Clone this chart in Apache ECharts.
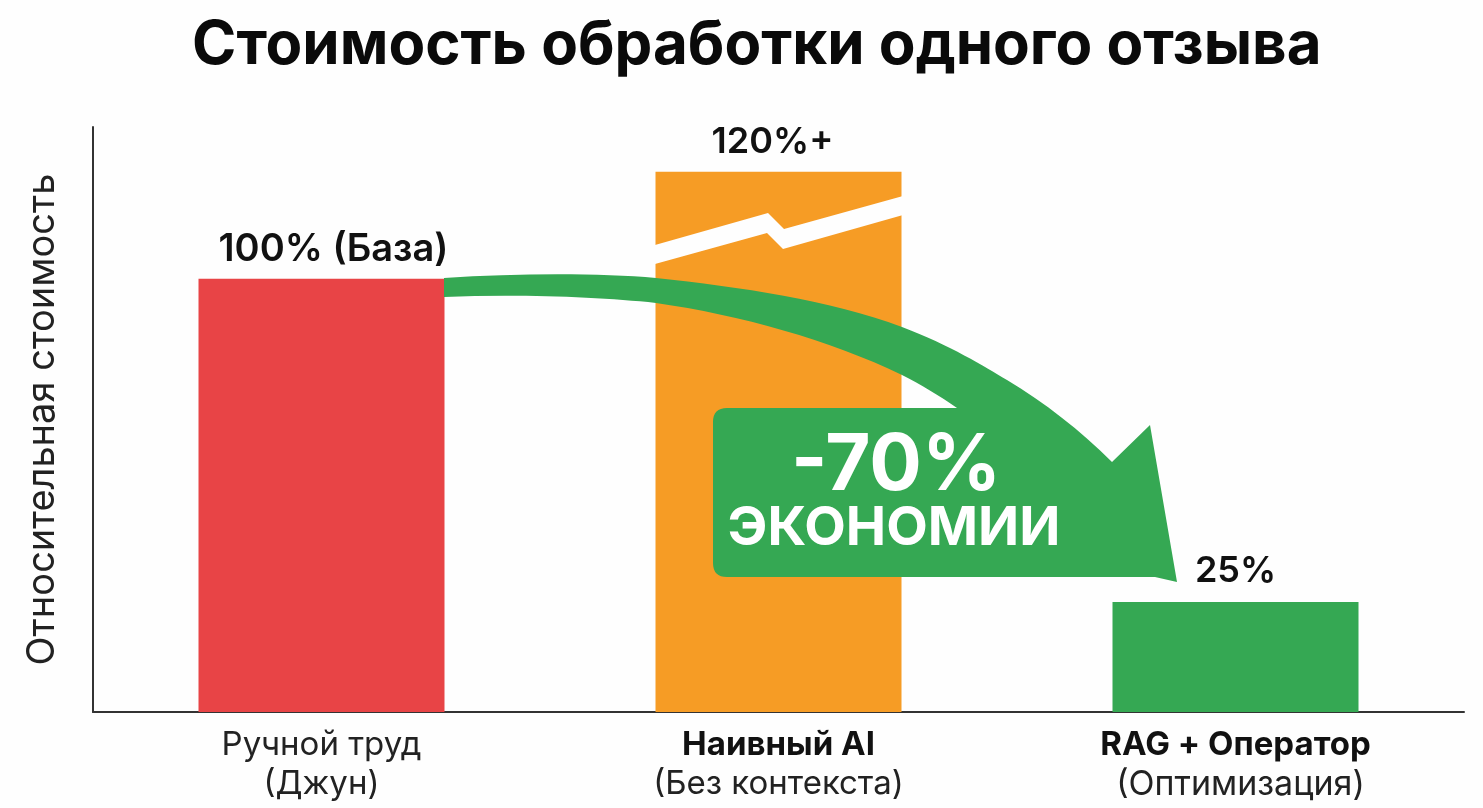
<!DOCTYPE html>
<html>
<head>
<meta charset="utf-8">
<style>
  html, body { margin: 0; padding: 0; background: #fefefe; }
  #chart { width: 1483px; height: 808px; }
</style>
</head>
<body>
<div id="chart"></div>
<script src="https://cdn.jsdelivr.net/npm/echarts@6/dist/echarts.min.js"></script>
<script>
const categories = ['Ручной труд', 'Наивный AI', 'RAG + Оператор']
const subCategories = ['(Джун)', '(Без контекста)', '(Оптимизация)']
// высота столбцов, оранжевый столбец нарисован с разрывом
const values = [100, 124.7, 25.4]
const valueLabels = ['100% (База)', '120%+', '25%']
const barColors = ['#e84446', '#f69c25', '#35a853']
const labelOffsets = [[12, -5], [-6, -6], [0, -8]]

const font = 'Inter, "Noto Sans", sans-serif'
const green = '#35a853'

const chart = echarts.init(document.getElementById('chart'))

// разрыв столбца и стрелка экономии - это подписи поверх графика
function renderAnnotation() {
  return {
    type: 'group',
    children: [
      {
        type: 'polygon',
        shape: {
          points: [[655, 245], [768, 213], [784, 229], [903, 196], [903, 215], [783, 249], [767, 233], [655, 264]]
        },
        style: { fill: '#fefefe' }
      },
      {
        type: 'path',
        shape: {
          pathData: 'M444 278 C520 273 600 273 656 278 C740 287 830 300 902 327 C950 345 985 367 1007 380 ' +
            'C1045 403 1080 430 1112 462 L1150 425 L1177 582 L1155 577 L727 577 Q713 577 713 563 L713 422 ' +
            'Q713 408 727 408 L957 408 C940 396 920 384 902 375 C830 340 740 315 656 303 C600 297 520 294 444 297 Z'
        },
        style: { fill: green }
      },
      {
        type: 'text',
        style: {
          text: '-70%', x: 896, y: 467, align: 'center', verticalAlign: 'middle',
          fontFamily: font, fontSize: 78, fontWeight: 700, fill: '#fff'
        }
      },
      {
        type: 'text',
        style: {
          text: 'ЭКОНОМИИ', x: 894, y: 529, align: 'center', verticalAlign: 'middle',
          fontFamily: font, fontSize: 54, fontWeight: 700, fill: '#fff'
        }
      }
    ]
  }
}

chart.setOption({
  backgroundColor: '#fefefe',
  animation: false,
  title: {
    text: 'Стоимость обработки одного отзыва',
    left: 187,
    top: 11,
    textStyle: { fontFamily: font, fontSize: 60, fontWeight: 700, color: '#0a0a0a' }
  },
  grid: { left: 93, right: 19, top: 127, bottom: 96 },
  xAxis: {
    type: 'category',
    data: categories,
    axisTick: { show: false },
    axisLine: { lineStyle: { color: '#333', width: 2 } },
    axisLabel: {
      margin: 14,
      interval: 0,
      formatter: (name, i) => {
        const style = i === 0 ? 'main' : 'bold'
        const subStyle = i === 2 ? 'subShift' : 'sub'
        return `{${style}|${name}}\n{${subStyle}|${subCategories[i]}}`
      },
      rich: {
        main: { fontFamily: font, fontSize: 33, color: '#222', lineHeight: 39 },
        bold: { fontFamily: font, fontSize: 33, fontWeight: 700, color: '#111', lineHeight: 39 },
        sub: { fontFamily: font, fontSize: 33, color: '#222', lineHeight: 39 },
        subShift: { fontFamily: font, fontSize: 34, color: '#222', lineHeight: 39, padding: [0, 0, 0, 10] }
      }
    }
  },
  yAxis: {
    type: 'value',
    min: 0,
    max: 135,
    name: 'Относительная стоимость',
    nameLocation: 'middle',
    nameGap: 31,
    nameTextStyle: { fontFamily: font, fontSize: 38, color: '#222' },
    axisLabel: { show: false },
    axisTick: { show: false },
    splitLine: { show: false },
    axisLine: { show: true, lineStyle: { color: '#333', width: 2 } }
  },
  series: [
    {
      type: 'bar',
      barWidth: 246,
      data: values.map((v, i) => ({
        value: v,
        itemStyle: { color: barColors[i] },
        label: {
          show: true,
          position: 'top',
          offset: labelOffsets[i],
          formatter: valueLabels[i],
          fontFamily: font,
          fontSize: i === 0 ? 38 : 36,
          fontWeight: 600,
          color: '#111'
        }
      }))
    },
    {
      type: 'custom',
      coordinateSystem: 'none',
      silent: true,
      z: 10,
      data: [0],
      renderItem: renderAnnotation
    }
  ]
})
</script>
</body>
</html>
